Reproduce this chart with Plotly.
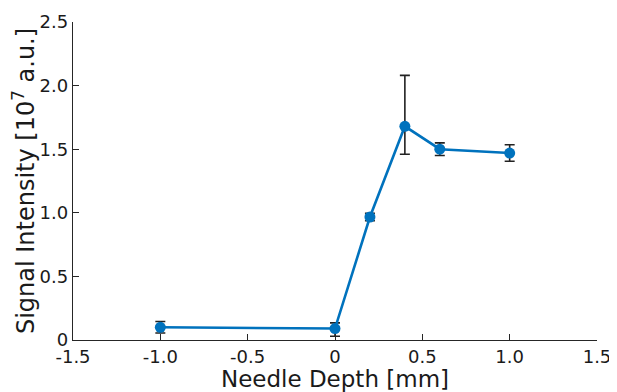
import plotly.graph_objects as go

depth = [-1.0, 0.0, 0.2, 0.4, 0.6, 1.0]
signal = [0.10, 0.09, 0.967, 1.68, 1.50, 1.47]
err_plus = [0.045, 0.045, 0.03, 0.40, 0.05, 0.065]
err_minus = [0.045, 0.06, 0.03, 0.22, 0.05, 0.065]

x_ticks = [-1.5, -1.0, -0.5, 0, 0.5, 1.0, 1.5]
x_labels = ["-1.5", "-1.0", "-0.5", "0", "0.5", "1.0", "1.5"]
y_ticks = [0, 0.5, 1.0, 1.5, 2.0, 2.5]
y_labels = ["0", "0.5", "1.0", "1.5", "2.0", "2.5"]

font = "DejaVu Sans, sans-serif"
axis_col = "#262626"
txt_col = "#1a1a1a"

fig = go.Figure()
fig.add_trace(go.Scatter(
    x=depth, y=signal, mode="markers",
    marker=dict(size=1, opacity=0),
    error_y=dict(type="data", symmetric=False, array=err_plus, arrayminus=err_minus,
                 color="#222222", thickness=1.6, width=5),
    showlegend=False, hoverinfo="skip"))
fig.add_trace(go.Scatter(
    x=depth, y=signal, mode="lines+markers",
    line=dict(color="#0072BD", width=2.6),
    marker=dict(color="#0072BD", size=11),
    showlegend=False))

# the page body adds an 8px offset, so the figure is 8px smaller than the window
fig.update_layout(
    width=609, height=384,
    margin=dict(l=65, r=20, t=14, b=52),
    paper_bgcolor="white", plot_bgcolor="white",
    font=dict(family=font, color=txt_col),
)
fig.update_xaxes(
    range=[-1.5, 1.5], tickvals=x_ticks, ticktext=x_labels, automargin=False,
    showgrid=False, zeroline=False, showline=True, linecolor=axis_col, linewidth=1.3,
    ticks="inside", ticklen=6, tickcolor=axis_col, tickwidth=1.3,
    tickfont=dict(size=18, family=font, color=txt_col),
    title=dict(text="Needle Depth [mm]", font=dict(size=23, family=font, color=txt_col), standoff=1),
)
fig.update_yaxes(
    range=[0, 2.5], tickvals=y_ticks, ticktext=y_labels, automargin=False,
    showgrid=False, zeroline=False, showline=True, linecolor=axis_col, linewidth=1.3,
    ticks="inside", ticklen=6, tickcolor=axis_col, tickwidth=1.3,
    tickfont=dict(size=18, family=font, color=txt_col),
    title=dict(text="Signal Intensity [10<sup>7</sup> a.u.]", font=dict(size=24, family=font, color=txt_col), standoff=2),
)

fig.write_html("out.html")
